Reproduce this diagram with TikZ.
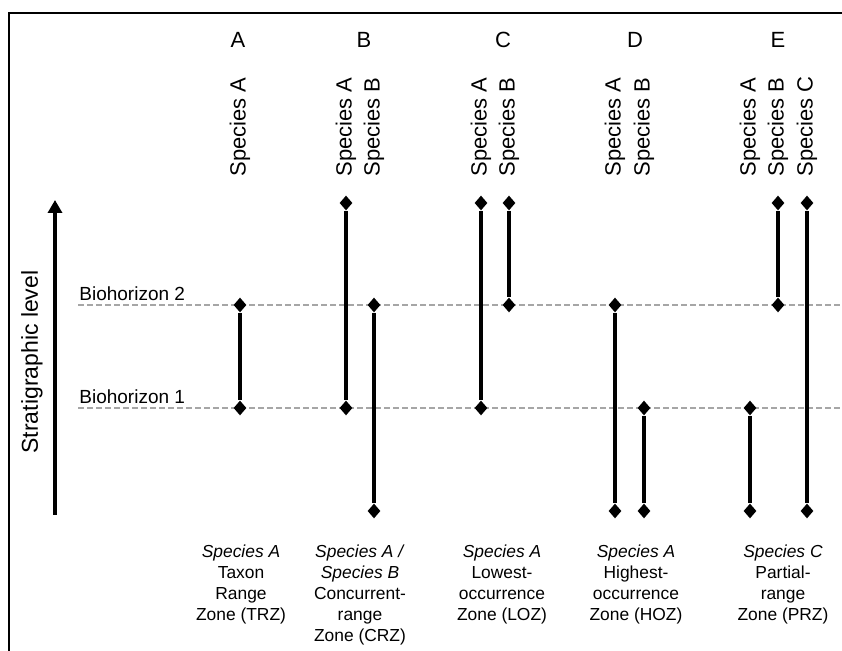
\documentclass[tikz,border=0pt]{standalone}
\usepackage{fontspec}
\setmainfont{Liberation Sans}
\usetikzlibrary{shapes.geometric,arrows.meta}
\begin{document}
\begin{tikzpicture}[x=0.5pt,y=-0.5pt,
  endpt/.style={diamond,fill=black,inner sep=0pt,minimum width=6.5pt,minimum height=7.5pt},
  rangeline/.style={line width=1.9pt},
  horizon/.style={gray!70,line width=1.1pt,dash pattern=on 3pt off 1.5pt},
  spec/.style={rotate=90,anchor=west,inner sep=0pt,font=\fontsize{11}{13}\selectfont},
  zone/.style={align=center,anchor=north,inner sep=0pt,font=\fontsize{8.7}{10.5}\selectfont}]
\useasboundingbox (0,0) rectangle (842,651);
\draw[line width=0.6pt] (9,651) -- (9,13) -- (842,13);
\coordinate (h2l) at (78,305);
\coordinate (h2r) at (842,305);
\coordinate (h1l) at (78,408);
\coordinate (h1r) at (842,408);
\draw[horizon] (h2l) -- (h2r);
\draw[horizon] (h1l) -- (h1r);
\node[anchor=south west,inner sep=0pt,font=\fontsize{9.5}{11}\selectfont] (bh2) at (79,301) {Biohorizon 2};
\node[anchor=south west,inner sep=0pt,font=\fontsize{9.5}{11}\selectfont] (bh1) at (79,404) {Biohorizon 1};
\coordinate (lvlb) at (55,515);
\coordinate (lvlt) at (55,200);
\draw[line width=1.9pt,-{Triangle[width=7pt,length=6.5pt]}] (lvlb) -- (lvlt);
\node[rotate=90,font=\fontsize{11.5}{13}\selectfont] (lvl) at (32,362) {Stratigraphic level};
\foreach \x/\l in {238/A,364/B,503/C,635/D,778/E}
  \node[font=\fontsize{11}{13}\selectfont] (col\l) at (\x,40) {\l};
\foreach \x/\s in {240/A,346/A,374/B,481/A,509/B,615/A,644/B,750/A,778/B,807/C}
  \node[spec] (sp\x) at (\x,177) {Species \s};
\foreach \n/\x/\t/\b in {aA/240/305/408,bA/346/203/408,bB/374/305/511,cA/481/203/408,cB/509/203/305,dA/615/305/511,dB/644/408/511,eA/750/408/511,eB/778/203/305,eC/807/203/511}{
  \node[endpt] (\n t) at (\x,\t) {};
  \node[endpt] (\n b) at (\x,\b) {};
  \draw[rangeline] (\n t) -- (\n b);
}
\node[zone] (zA) at (241,544) {\textit{Species A}\\Taxon\\Range\\Zone (TRZ)};
\node[zone] (zB) at (360,544) {\textit{Species A /}\\\textit{Species B}\\Concurrent-\\range\\Zone (CRZ)};
\node[zone] (zC) at (502,544) {\textit{Species A}\\Lowest-\\occurrence\\Zone (LOZ)};
\node[zone] (zD) at (636,544) {\textit{Species A}\\Highest-\\occurrence\\Zone (HOZ)};
\node[zone] (zE) at (783,544) {\textit{Species C}\\Partial-\\range\\Zone (PRZ)};
\end{tikzpicture}
\end{document}
